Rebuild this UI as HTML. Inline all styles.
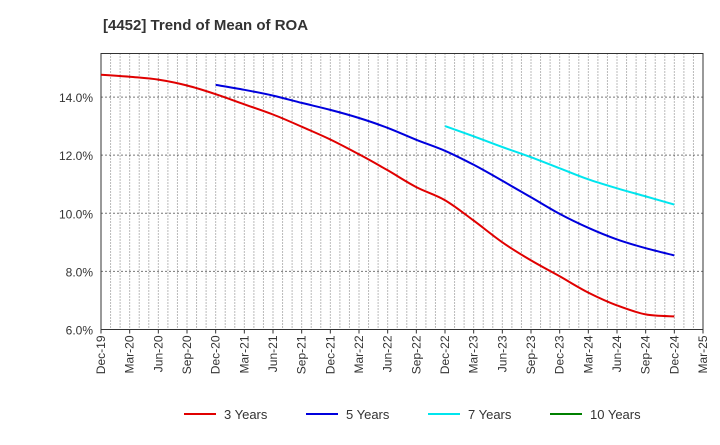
<!DOCTYPE html>
<html><head><meta charset="utf-8"><style>
body{margin:0;background:#fff;font-family:"Liberation Sans",sans-serif;}
</style></head><body>
<svg width="720" height="440" xmlns="http://www.w3.org/2000/svg">
<text x="103" y="30" font-size="15" font-weight="bold" fill="#333">[4452]  Trend of Mean of ROA</text>
<g id="grid"></g><g id="axes"></g><g id="series"></g><g id="legend"></g>
</svg>
<script>
const xLabels=["Dec-19","Mar-20","Jun-20","Sep-20","Dec-20","Mar-21","Jun-21","Sep-21","Dec-21","Mar-22","Jun-22","Sep-22","Dec-22","Mar-23","Jun-23","Sep-23","Dec-23","Mar-24","Jun-24","Sep-24","Dec-24","Mar-25"];
const yTicks=[6,8,10,12,14];
const s3=[14.77,14.7,14.6,14.4,14.1,13.75,13.4,12.98,12.54,12.03,11.48,10.9,10.45,9.75,9.0,8.38,7.83,7.27,6.83,6.52,6.45];
const s5=[null,null,null,null,14.42,14.25,14.05,13.8,13.56,13.28,12.94,12.53,12.15,11.67,11.12,10.55,9.98,9.5,9.1,8.8,8.55];
const s7=[null,null,null,null,null,null,null,null,null,null,null,null,13.0,12.65,12.28,11.93,11.55,11.17,10.86,10.58,10.3];
const s10=[];
const NS="http://www.w3.org/2000/svg";
const L=101,R=703,T=53.5,B=329.5,yMin=6,yMax=15.5;
const xq=i=>L+i*(R-L)/21;
const y=v=>B-(v-yMin)/(yMax-yMin)*(B-T);
function mk(t,a,p){const e=document.createElementNS(NS,t);for(const k in a)e.setAttribute(k,a[k]);p.appendChild(e);return e;}
const grid=document.getElementById('grid'),axes=document.getElementById('axes'),ser=document.getElementById('series'),leg=document.getElementById('legend');
for(let m=1;m<63;m++){const x=L+m*(R-L)/63;
const g=mk('line',{x1:x,x2:x,y1:T,y2:B,stroke:'#777','stroke-dasharray':'1,2','stroke-width':1},grid);

}
yTicks.forEach(v=>{const g=mk('line',{x1:L,x2:R,y1:y(v),y2:y(v),stroke:'#777','stroke-dasharray':'2,2'},grid);


const t=mk('text',{x:L-8,y:y(v)+5,'text-anchor':'end','font-size':12,fill:'#333'},axes);t.textContent=v.toFixed(1)+'%';

});
const fr=mk('rect',{x:L,y:T,width:R-L,height:B-T,fill:'none',stroke:'#333'},axes);


xLabels.forEach((lab,i)=>{const x=xq(i);
mk('line',{x1:x,x2:x,y1:B,y2:B+4,stroke:'#333'},axes);
const t=mk('text',{transform:`translate(${x+4},${B+6}) rotate(-90)`,'text-anchor':'end','font-size':12,fill:'#333'},axes);t.textContent=lab;

});
function line(d,c,n){const pts=[];d.forEach((v,i)=>{if(v!=null)pts.push([xq(i),y(v)]);});
if(pts.length<2)return;
let dd='M'+pts[0][0].toFixed(1)+','+pts[0][1].toFixed(1);
for(let i=0;i<pts.length-1;i++){const p0=pts[Math.max(0,i-1)],p1=pts[i],p2=pts[i+1],p3=pts[Math.min(pts.length-1,i+2)];
const c1x=p1[0]+(p2[0]-p0[0])/6,c1y=p1[1]+(p2[1]-p0[1])/6,c2x=p2[0]-(p3[0]-p1[0])/6,c2y=p2[1]-(p3[1]-p1[1])/6;
dd+=` C${c1x.toFixed(1)},${c1y.toFixed(1)} ${c2x.toFixed(1)},${c2y.toFixed(1)} ${p2[0].toFixed(1)},${p2[1].toFixed(1)}`;}
const p=mk('path',{d:dd,fill:'none',stroke:c,'stroke-width':2,'stroke-linejoin':'round'},ser);

}
line(s3,'#e00000','series-3-years');line(s5,'#0000dd','series-5-years');line(s7,'#00e5ee','series-7-years');line(s10,'#008000','series-10-years');
[['3 Years','#e00000',184],['5 Years','#0000dd',306],['7 Years','#00e5ee',428],['10 Years','#008000',550]].forEach(([n,c,x])=>{
const g=mk('g',{},leg);


mk('line',{x1:x,x2:x+32,y1:414,y2:414,stroke:c,'stroke-width':2},g);
const t=mk('text',{x:x+40,y:419,'font-size':13,fill:'#333'},g);t.textContent=n;});
</script>
</body></html>
